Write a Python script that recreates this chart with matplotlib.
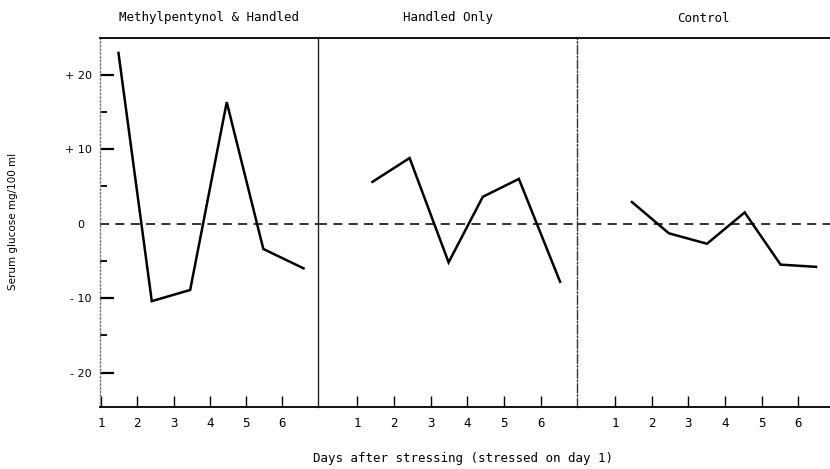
import matplotlib
matplotlib.use("Agg")
import matplotlib.pyplot as plt

# ---- data ----
panel_titles = ["Methylpentynol & Handled", "Handled Only", "Control"]
days_mp = [1.48, 2.40, 3.46, 4.47, 5.48, 6.59]
vals_mp = [22.9, -10.4, -8.9, 16.3, -3.4, -6.0]
days_ho = [1.42, 2.43, 3.49, 4.42, 5.40, 6.52]
vals_ho = [5.6, 8.8, -5.2, 3.6, 6.0, -7.8]
days_ct = [1.46, 2.47, 3.51, 4.54, 5.52, 6.49]
vals_ct = [2.9, -1.3, -2.7, 1.5, -5.5, -5.8]
day_ticks = [1, 2, 3, 4, 5, 6]
day_labels = ["1", "2", "3", "4", "5", "6"]
y_major = [-20, -10, 0, 10, 20]
y_major_labels = ["- 20", "- 10", "0  ", "+ 10", "+ 20"]
y_minor = [-15, -5, 5, 15]
xlabel = "Days after stressing (stressed on day 1)"
ylabel = "Serum glucose mg/100 ml"

W, H = 830, 469
fig = plt.figure(figsize=(W / 100, H / 100), dpi=100)
fig.patch.set_facecolor("white")

mono = "DejaVu Sans Mono"

top_px, bot_px = 38, 407
b = (H - bot_px) / H
h = (bot_px - top_px) / H
ylim = (-24.6, 24.9)

panels = [
    dict(x0=100, x1=318, xlim=(0.97, 6.99), days=days_mp, vals=vals_mp, left_ls=":", left_col="#777777"),
    dict(x0=318, x1=577, xlim=(-0.06, 6.98), days=days_ho, vals=vals_ho, left_ls="-", left_col="#222222"),
    dict(x0=577, x1=830, xlim=(-0.04, 6.87), days=days_ct, vals=vals_ct, left_ls="-.", left_col="#333333"),
]

axes = []
for i, p in enumerate(panels):
    ax = fig.add_axes([p["x0"] / W, b, (p["x1"] - p["x0"]) / W, h])
    ax.set_xlim(*p["xlim"])
    ax.set_ylim(*ylim)
    ax.patch.set_alpha(0)
    ax.spines["right"].set_visible(False)
    ax.spines["top"].set_linewidth(1.3)
    ax.spines["bottom"].set_linewidth(1.3)
    ax.spines["left"].set_linestyle(p["left_ls"])
    ax.spines["left"].set_color(p["left_col"])
    ax.spines["left"].set_linewidth(1.0)
    # zero reference line
    ax.axhline(0, color="#222222", lw=1.3, ls=(0, (5, 3.5)), zorder=1)
    # data
    ax.plot(p["days"], p["vals"], color="black", lw=1.8, solid_joinstyle="miter", zorder=3)
    # x ticks
    ax.set_xticks(day_ticks)
    ax.set_xticklabels(day_labels, fontfamily=mono, fontsize=9)
    ax.tick_params(axis="x", direction="in", length=8, width=1.0, pad=7, top=False)
    # y ticks
    if i == 0:
        ax.set_yticks(y_major)
        ax.set_yticklabels(y_major_labels, fontsize=8)
        ax.set_yticks(y_minor, minor=True)
        ax.tick_params(axis="y", which="major", direction="in", length=10, width=1.6, pad=6)
        ax.tick_params(axis="y", which="minor", direction="in", length=5, width=1.3)
        ax.yaxis.get_major_ticks()[2].tick1line.set_visible(False)
    else:
        ax.set_yticks([])
    fig.text((p["x0"] + p["x1"]) / 2 / W, 1 - 18 / H, panel_titles[i],
             ha="center", va="center", fontfamily=mono, fontsize=9)
    axes.append(ax)

fig.text(463 / W, 1 - 458 / H, xlabel, ha="center", va="center", fontfamily=mono, fontsize=9)
fig.text(13 / W, 1 - 221 / H, ylabel, ha="center", va="center", rotation=90, fontsize=7.5)

fig.savefig("out.png", dpi=100)
